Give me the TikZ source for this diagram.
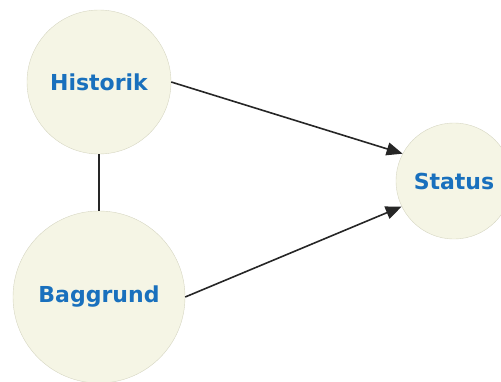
\documentclass[tikz,border=0pt]{standalone}
\usepackage{fontspec}
\setsansfont{DejaVu Sans}
\usetikzlibrary{arrows.meta}
\tikzset{topic/.style = {circle, draw = mrim, fill = mcream, inner sep = 0, text = mtext, font = \sffamily\bfseries\fontsize{22}{26}\selectfont}}
\tikzset{link/.style = {line width = 1.6, draw = black!85}}
\definecolor{mcream}{rgb}{0.96, 0.96, 0.90}
\definecolor{mrim}{rgb}{0.84, 0.84, 0.76}
\definecolor{mtext}{rgb}{0.10, 0.44, 0.74}

\begin{document}
\begin{tikzpicture}[x = 1pt, y = -1pt]
    \clip (0, 0) rectangle (501, 381);
    \node [topic, minimum size = 144] (historik) at (99, 82) {Historik};
    \node [topic, minimum size = 172] (baggrund) at (99, 297) {Baggrund};
    \node [topic, minimum size = 116] (status) at (454, 181) {Status};
    \draw [link] (historik) -- (baggrund);
    \draw [link, -{Triangle[length = 16, width = 13]}] (historik.east) -- (status.152);
    \draw [link, -{Triangle[length = 16, width = 13]}] (baggrund.east) -- (status.206);
  \end{tikzpicture}
\end{document}
